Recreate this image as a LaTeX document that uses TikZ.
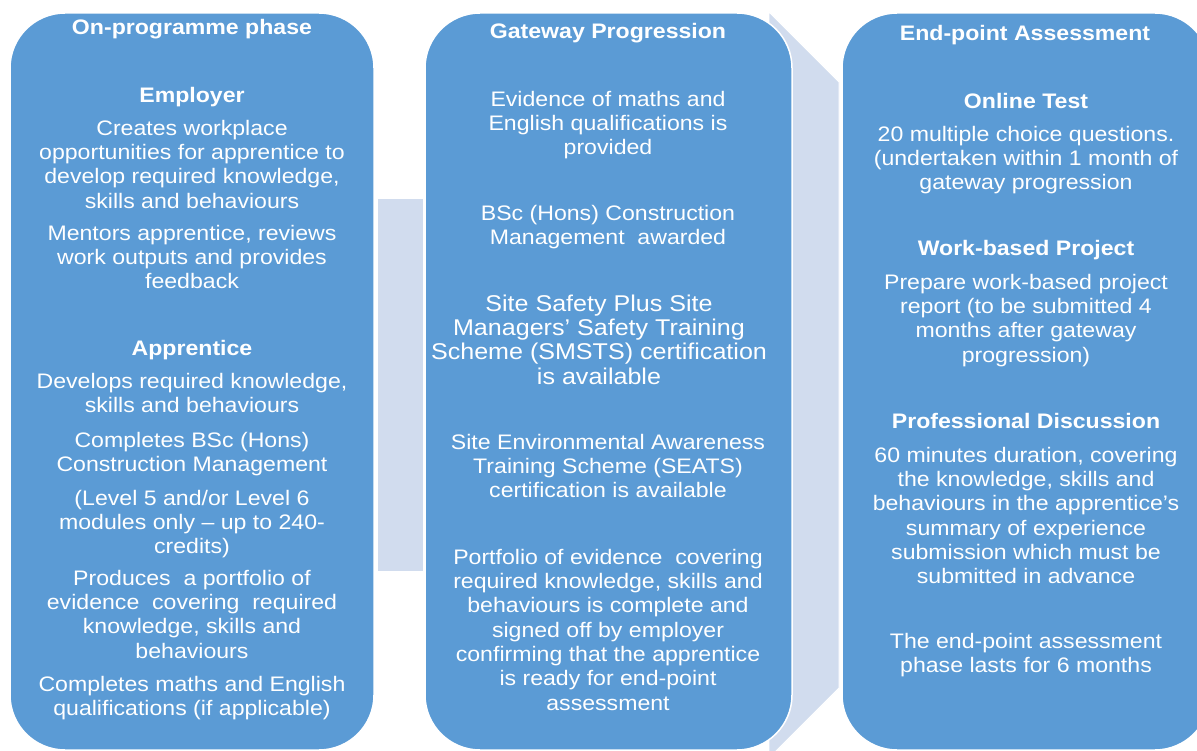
\documentclass[tikz,border=0pt]{standalone}
\usepackage{fontspec}
\setmainfont{Liberation Sans}[FakeStretch=1.1]
\definecolor{boxblue}{HTML}{5B9BD5}
\definecolor{linkblue}{HTML}{D1DCEE}
\begin{document}
\begin{tikzpicture}[x=1pt,y=-1pt,
  phase/.style={fill=boxblue, draw=white, line width=1.5pt, rounded corners=55pt, inner sep=0pt},
  link/.style={fill=linkblue, draw=white, line width=0.8pt},
  txt/.style={text=white, align=center, inner sep=0pt, anchor=north, font=\fontsize{21}{24.3}\selectfont},
  bigtxt/.style={txt, font=\fontsize{22.8}{24.3}\selectfont},
  hd/.style={txt, font=\bfseries\fontsize{21}{24.3}\selectfont}]
\useasboundingbox (0,0) rectangle (1197,751);
\fill[white] (0,0) rectangle (1197,751);
% connectors (behind the boxes)
\draw[link] (377,198) rectangle (423,571);
\draw[link] (769,12) -- (839,82) -- (839,688) -- (769,758) -- cycle;
% phase boxes
\node[phase, minimum width=364pt, minimum height=737pt] (b1) at (192,381.5) {};
\node[phase, minimum width=367pt, minimum height=737pt] (b2) at (608.5,381.5) {};
\node[phase, minimum width=368pt, minimum height=737pt] (b3) at (1026,381.5) {};
% box 1
\node[hd] (t1) at (192,17) {\strut On-programme phase};
\node[hd] (h1a) at (192,85) {\strut Employer};
\node[txt] (p1a) at (192,118) {\strut Creates workplace\\opportunities for apprentice to\\develop required knowledge,\\skills and behaviours};
\node[txt] (p1b) at (192,223) {\strut Mentors apprentice, reviews\\work outputs and provides\\feedback};
\node[hd] (h1b) at (192,338) {\strut Apprentice};
\node[txt] (p1c) at (192,371) {\strut Develops required knowledge,\\skills and behaviours};
\node[txt] (p1d) at (192,430) {\strut Completes BSc (Hons)\\Construction Management};
\node[txt] (p1e) at (192,488) {\strut (Level 5 and/or Level 6\\modules only – up to 240-\\credits)};
\node[txt] (p1f) at (192,568) {\strut Produces~ a portfolio of\\evidence~ covering~ required\\knowledge, skills and\\behaviours};
\node[txt] (p1g) at (192,674) {\strut Completes maths and English\\qualifications (if applicable)};
% box 2
\node[hd] (t2) at (608,21) {\strut Gateway Progression};
\node[txt] (p2a) at (608,89) {\strut Evidence of maths and\\English qualifications is\\provided};
\node[txt] (p2b) at (608,203) {\strut BSc (Hons) Construction\\Management~ awarded};
\node[bigtxt] (p2c) at (599,294) {\strut Site Safety Plus Site\\Managers’ Safety Training\\Scheme (SMSTS) certification\\is available};
\node[txt] (p2d) at (608,432) {\strut Site Environmental Awareness\\Training Scheme (SEATS)\\certification is available};
\node[txt] (p2e) at (608,547) {\strut Portfolio of evidence~ covering\\required knowledge, skills and\\behaviours is complete and\\signed off by employer\\confirming that the apprentice\\is ready for end-point\\assessment};
% box 3
\node[hd] (t3) at (1025,23) {\strut End-point Assessment};
\node[hd] (h3a) at (1026,91) {\strut Online Test};
\node[txt] (p3a) at (1026,124) {\strut 20 multiple choice questions.\\(undertaken within 1 month of\\gateway progression};
\node[hd] (h3b) at (1026,238) {\strut Work-based Project};
\node[txt] (p3b) at (1026,272) {\strut Prepare work-based project\\report (to be submitted 4\\months after gateway\\progression)};
\node[hd] (h3c) at (1026,411) {\strut Professional Discussion};
\node[txt] (p3c) at (1026,445) {\strut 60 minutes duration, covering\\the knowledge, skills and\\behaviours in the apprentice’s\\summary of experience\\submission which must be\\submitted in advance};
\node[txt] (p3d) at (1026,631) {\strut The end-point assessment\\phase lasts for 6 months};
\end{tikzpicture}
\end{document}
